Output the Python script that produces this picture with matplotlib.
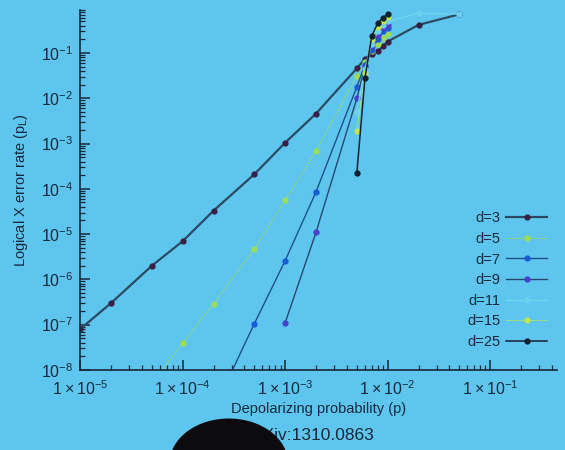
import math
import matplotlib
matplotlib.use("Agg")
import matplotlib.pyplot as plt
from matplotlib.patches import Ellipse
from matplotlib.ticker import LogLocator, FuncFormatter, NullFormatter

# values (depolarizing probability p, logical X error rate p_L)
p_d3 = [1e-5, 2e-5, 5e-5, 1e-4, 2e-4, 5e-4, 1e-3, 2e-3, 5e-3, 6e-3, 7e-3, 8e-3, 9e-3, 1e-2, 2e-2, 5e-2]
pl_d3 = [8e-8, 3e-7, 2e-6, 7e-6, 3.3e-5, 2.1e-4, 1.05e-3, 4.6e-3, 0.046, 0.074, 0.095, 0.11, 0.14, 0.18, 0.42, 0.72]

p_d5 = [5e-5, 1e-4, 2e-4, 5e-4, 1e-3, 2e-3, 5e-3, 6e-3, 7e-3, 8e-3, 9e-3, 1e-2]
pl_d5 = [5e-9, 3.9e-8, 2.9e-7, 4.6e-6, 5.6e-5, 6.8e-4, 0.031, 0.062, 0.11, 0.16, 0.22, 0.26]

p_d7 = [2e-4, 5e-4, 1e-3, 2e-3, 5e-3, 6e-3, 7e-3, 8e-3, 9e-3, 1e-2]
pl_d7 = [1.3e-9, 1.05e-7, 2.6e-6, 8.6e-5, 0.018, 0.055, 0.12, 0.2, 0.3, 0.35]

p_d9 = [1e-3, 2e-3, 5e-3, 6e-3, 7e-3, 8e-3, 9e-3, 1e-2]
pl_d9 = [1.1e-7, 1.1e-5, 0.01, 0.05, 0.14, 0.25, 0.35, 0.42]

p_d11 = [5e-3, 6e-3, 7e-3, 8e-3, 9e-3, 1e-2, 2e-2, 5e-2]
pl_d11 = [5e-3, 0.045, 0.16, 0.3, 0.42, 0.5, 0.76, 0.73]

p_d15 = [5e-3, 6e-3, 7e-3, 8e-3, 9e-3, 1e-2]
pl_d15 = [1.9e-3, 0.036, 0.2, 0.38, 0.5, 0.62]

p_d25 = [5e-3, 6e-3, 7e-3, 8e-3, 9e-3, 1e-2]
pl_d25 = [2.2e-4, 0.028, 0.24, 0.46, 0.6, 0.73]

labels = ["d=3", "d=5", "d=7", "d=9", "d=11", "d=15", "d=25"]

bg = "#5ec6ee"
ink = "#16283a"

plt.rcParams["font.family"] = ["Liberation Sans", "DejaVu Sans"]
plt.rcParams["mathtext.default"] = "regular"

fig = plt.figure(figsize=(5.65, 4.5), dpi=100, facecolor=bg)
ax = fig.add_axes([0.142, 0.178, 0.844, 0.80])
ax.set_facecolor(bg)

# (x, y, line colour, marker colour, line width)
series = [
    (p_d3, pl_d3, "#2b4a62", "#3a1f45", 1.6),
    (p_d5, pl_d5, "#8ed67e", "#9fdc55", 0.6),
    (p_d7, pl_d7, "#1f4f8a", "#1a5ad8", 1.0),
    (p_d9, pl_d9, "#27486e", "#4a3fd0", 1.0),
    (p_d11, pl_d11, "#72d3f3", "#6dd1f2", 1.0),
    (p_d15, pl_d15, "#a9e07a", "#bfe64e", 0.6),
    (p_d25, pl_d25, "#13222f", "#10202c", 1.1),
]

for (px, py, lc, mc, lw), lab in zip(series, labels):
    ax.plot(px, py, color=lc, lw=lw, marker="o", markersize=3.5,
            markerfacecolor=mc, markeredgecolor=mc, label=lab)

ax.set_xscale("log")
ax.set_yscale("log")
ax.set_xlim(1e-5, 0.45)
ax.set_ylim(1e-8, 0.9)

for s in ["top", "right"]:
    ax.spines[s].set_visible(False)
for s in ["left", "bottom"]:
    ax.spines[s].set_color(ink)
    ax.spines[s].set_linewidth(1.2)

ax.xaxis.set_major_locator(LogLocator(base=10, numticks=10))
ax.yaxis.set_major_locator(LogLocator(base=10, numticks=12))
ax.xaxis.set_minor_locator(LogLocator(base=10, subs=range(2, 10), numticks=12))
ax.yaxis.set_minor_locator(LogLocator(base=10, subs=range(2, 10), numticks=12))
ax.xaxis.set_minor_formatter(NullFormatter())
ax.yaxis.set_minor_formatter(NullFormatter())

def fmt_x(v, pos):
    e = int(round(math.log10(v)))
    return r"$1\times10^{%d}$" % e

def fmt_y(v, pos):
    e = int(round(math.log10(v)))
    return r"$10^{%d}$" % e

ax.xaxis.set_major_formatter(FuncFormatter(fmt_x))
ax.yaxis.set_major_formatter(FuncFormatter(fmt_y))

ax.tick_params(which="both", direction="in", colors=ink, labelsize=11.5)
ax.tick_params(which="major", length=7, width=1.1, pad=5)
ax.tick_params(which="minor", length=3.5, width=0.9)
ax.tick_params(axis="x", which="major", pad=7)

ax.set_xlabel("Depolarizing probability (p)", fontsize=10.5, color=ink, labelpad=3)
ax.set_ylabel("Logical X error rate (p$_L$)", fontsize=10.5, color=ink, labelpad=8)

leg = ax.legend(loc="lower right", bbox_to_anchor=(0.968, 0.225),
                bbox_transform=fig.transFigure, frameon=False,
                markerfirst=False, fontsize=10.5, handlelength=2.8,
                labelspacing=0.45, borderpad=0, borderaxespad=0,
                handletextpad=0.4)
for t in leg.get_texts():
    t.set_color(ink)

fig.text(0.55, 0.033, "arXiv:1310.0863", fontsize=12.5, color=ink,
         ha="center", va="center")

# dark head at the bottom of the photo
head = Ellipse((0.405, -0.03), 0.21, 0.2, transform=fig.transFigure,
               facecolor="#0b0b10", edgecolor="none", zorder=10)
fig.patches.append(head)

fig.savefig("out.png", dpi=100, facecolor=bg)
